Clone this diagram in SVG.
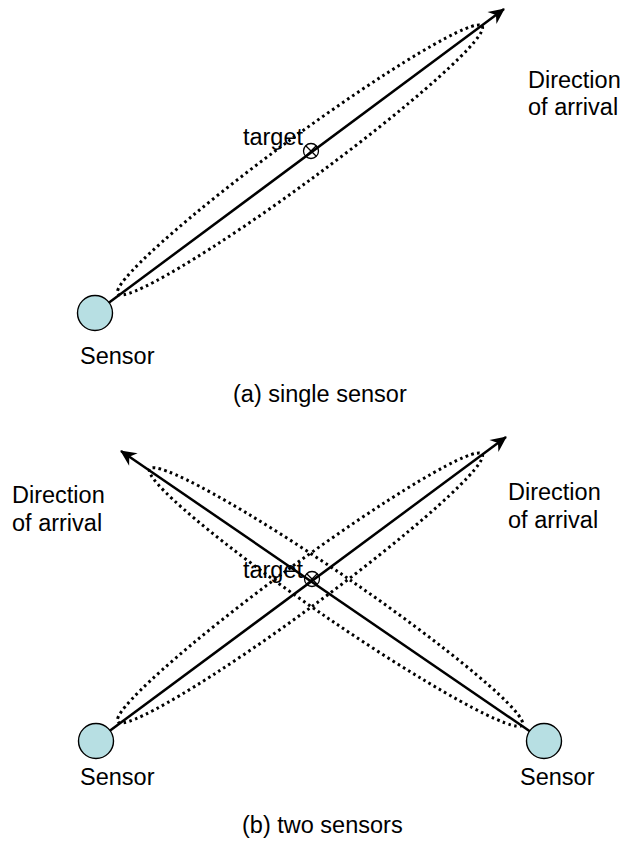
<svg xmlns="http://www.w3.org/2000/svg" width="629" height="846" viewBox="0 0 629 846">
<defs>
<style>
text{font-family:"Liberation Sans",Arial,sans-serif;font-size:23.5px;fill:#000}
.sensor{fill:#b7dfe3;stroke:#000;stroke-width:1.4}
.ray{stroke:#000;stroke-width:2.5;fill:none;marker-end:url(#arr)}
.dot{stroke:#000;stroke-width:3;fill:none;stroke-dasharray:2.6 3.4}
.tgt{fill:none;stroke:#000;stroke-width:1.3}
</style>
<marker id="arr" viewBox="-17 -9 19 18" markerWidth="19" markerHeight="18" refX="0" refY="0" orient="auto" markerUnits="userSpaceOnUse">
<path d="M1,0 L-15,-7.5 L-10,0 L-15,7.5 Z" fill="#000"/>
</marker>
</defs>
<rect width="629" height="846" fill="#fff"/>
<g id="connectors">
<ellipse class="dot" cx="300" cy="160" rx="226" ry="22" transform="rotate(-36.3 300 160)"/>
<line class="ray" x1="95" y1="313" x2="504" y2="9"/>
<ellipse class="dot" cx="300" cy="588" rx="226" ry="22" transform="rotate(-36.3 300 588)"/>
<line class="ray" x1="96" y1="741" x2="506" y2="437"/>
<ellipse class="dot" cx="336" cy="597" rx="226" ry="22" transform="rotate(34.5 336 597)"/>
<line class="ray" x1="544" y1="741" x2="121" y2="451"/>
</g>
<g id="sensor-a"><circle class="sensor" cx="95" cy="313" r="17.5"/></g>
<g id="target-a"><circle class="tgt" cx="311" cy="151" r="7.5"/><path class="tgt" d="M305.7,145.7 L316.3,156.3 M316.3,145.7 L305.7,156.3"/></g>
<g id="sensor-b1"><circle class="sensor" cx="96" cy="741" r="17.5"/></g>
<g id="sensor-b2"><circle class="sensor" cx="544" cy="741" r="17.5"/></g>
<g id="target-b"><circle class="tgt" cx="312" cy="579" r="7.5"/><path class="tgt" d="M306.7,573.7 L317.3,584.3 M317.3,573.7 L306.7,584.3"/></g>
<g id="labels">
<text x="528" y="88">Direction</text>
<text x="528" y="115">of arrival</text>
<text x="303" y="145" text-anchor="end">target</text>
<text x="80" y="364">Sensor</text>
<text x="233" y="402">(a) single sensor</text>
<text x="12" y="503">Direction</text>
<text x="12" y="531">of arrival</text>
<text x="508" y="500">Direction</text>
<text x="508" y="528">of arrival</text>
<text x="303" y="578" text-anchor="end">target</text>
<text x="80" y="785">Sensor</text>
<text x="520" y="785">Sensor</text>
<text x="242" y="833">(b) two sensors</text>
</g>
</svg>
